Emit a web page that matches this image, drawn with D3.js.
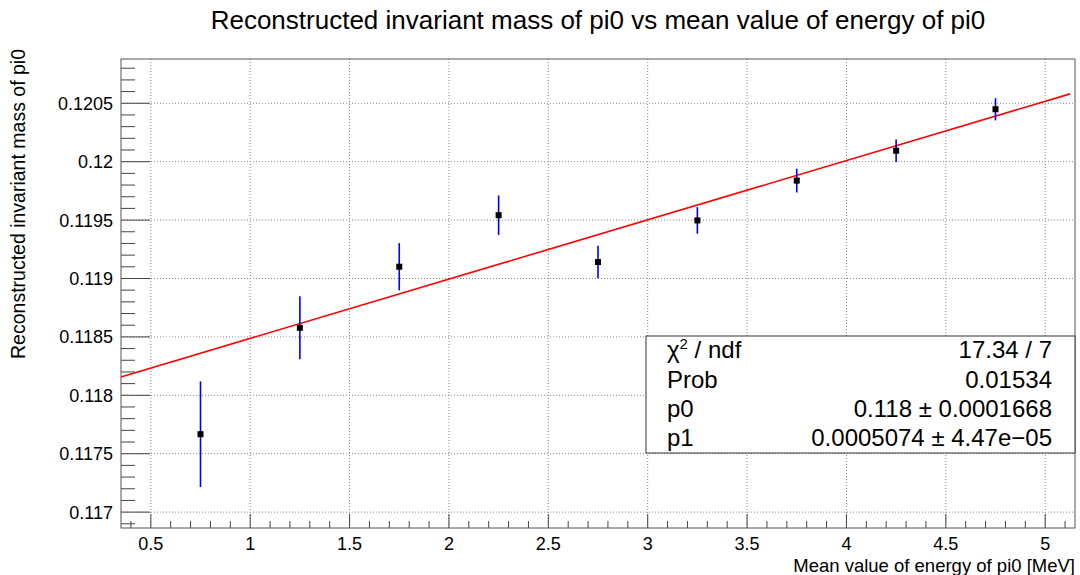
<!DOCTYPE html>
<html><head><meta charset="utf-8">
<script src="https://cdn.jsdelivr.net/npm/d3@7"></script>
<style>body{margin:0;background:#fff}svg{display:block}text{font-family:"Liberation Sans",Arial,sans-serif;fill:#000}</style>
</head><body><svg id="c" width="1080" height="575"></svg>
<script>
const energy = [0.75, 1.25, 1.75, 2.25, 2.75, 3.25, 3.75, 4.25, 4.75];
const mass   = [0.117667, 0.118578, 0.119101, 0.119542, 0.119141, 0.119497, 0.119838, 0.120094, 0.120449];
const massErr= [0.000452, 0.000269, 0.000202, 0.000169, 0.000139, 0.000114, 0.000102, 0.000096, 0.000095];
const fitP0 = 0.11798, fitP1 = 0.0005074;
const xTicks = [0.5, 1, 1.5, 2, 2.5, 3, 3.5, 4, 4.5, 5];
const yTicks = [0.117, 0.1175, 0.118, 0.1185, 0.119, 0.1195, 0.12, 0.1205];
const statsLabels = ["χ2 / ndf", "Prob", "p0", "p1"];
const statsValues = ["17.34 / 7", "0.01534", "0.118 ± 0.0001668", "0.0005074 ± 4.47e−05"];
const title = "Reconstructed invariant mass of pi0 vs mean value of energy of pi0";
const xTitle = "Mean value of energy of pi0 [MeV]";
const yTitle = "Reconstructed invariant mass of pi0";

const L=121, R=1075, T=59, B=528;
const svg = d3.select("#c");
const x = d3.scaleLinear().domain([0.35, 5.15]).range([L, R]);
const y = d3.scaleLinear().domain([0.116864, 0.120879]).range([B, T]);

// grid
const g = svg.append("g");
g.selectAll(".gx").data(xTicks).join("line")
  .attr("x1", d=>x(d)).attr("x2", d=>x(d)).attr("y1", T).attr("y2", B)
  .attr("stroke", "#888").attr("stroke-dasharray", "1,2").attr("stroke-width", 1);
g.selectAll(".gy").data(yTicks).join("line")
  .attr("x1", L).attr("x2", R).attr("y1", d=>y(d)).attr("y2", d=>y(d))
  .attr("stroke", "#888").attr("stroke-dasharray", "1,2").attr("stroke-width", 1);

// ticks
const xMinor = d3.range(4, 52).map(i=>i/10).filter(v=>v>=0.35&&v<=5.15);
const yMinor = d3.range(1169, 1209).map(i=>i/10000).filter(v=>v>=0.116864&&v<=0.120879);
svg.append("g").selectAll("line").data(xMinor).join("line")
  .attr("x1", d=>x(d)).attr("x2", d=>x(d)).attr("y1", B)
  .attr("y2", d=>B-(Math.abs(d*2-Math.round(d*2))<1e-6?14:7))
  .attr("stroke", "#444");
svg.append("g").selectAll("line").data(yMinor).join("line")
  .attr("y1", d=>y(d)).attr("y2", d=>y(d)).attr("x1", L)
  .attr("x2", d=>L+(Math.abs(d*2000-Math.round(d*2000))<1e-6?29:14))
  .attr("stroke", "#444");

// tick labels
svg.append("g").selectAll("text").data(xTicks).join("text")
  .attr("x", d=>x(d)).attr("y", 550).attr("text-anchor", "middle")
  .style("font-size", "18px").text(d=>d3.format("")(d));
svg.append("g").selectAll("text").data(yTicks).join("text")
  .attr("x", 113).attr("y", d=>y(d)+6.5).attr("text-anchor", "end")
  .style("font-size", "18px").text(d=>d3.format("")(d));

// frame
svg.append("rect").attr("x", L).attr("y", T).attr("width", R-L).attr("height", B-T)
  .attr("fill", "none").attr("stroke", "#555").attr("stroke-width", 1);

// fit line
svg.append("line").attr("x1", x(0.35)).attr("x2", x(5.125))
  .attr("y1", y(fitP0+fitP1*0.35)).attr("y2", y(fitP0+fitP1*5.125))
  .attr("stroke", "#ff0000").attr("stroke-width", 1.6);

// error bars
const pts = energy.map((e,i)=>({e, m:mass[i], s:massErr[i]}));
svg.append("g").selectAll("line").data(pts).join("line")
  .attr("x1", d=>x(d.e)).attr("x2", d=>x(d.e))
  .attr("y1", d=>y(d.m+d.s)).attr("y2", d=>y(d.m-d.s))
  .attr("stroke", "#0000ff").attr("stroke-width", 1.6);
svg.append("g").selectAll("rect").data(pts).join("rect")
  .attr("x", d=>x(d.e)-3).attr("y", d=>y(d.m)-3).attr("width", 6).attr("height", 6)
  .attr("fill", "#000");

// stats box
const sb = {x0:646, y0:336, x1:1075, y1:453};
svg.append("rect").attr("x", sb.x0).attr("y", sb.y0).attr("width", sb.x1-sb.x0).attr("height", sb.y1-sb.y0)
  .attr("fill", "#fff").attr("stroke", "#333").attr("stroke-width", 1);
const rowY = [358, 388, 417, 446];
statsLabels.forEach((lab,i)=>{
  const t = svg.append("text").attr("x", 667).attr("y", rowY[i]).style("font-size", "24px");
  if(i===0){ t.append("tspan").text("χ"); t.append("tspan").attr("dy",-9).style("font-size","15px").text("2"); t.append("tspan").attr("dy",9).text(" / ndf"); }
  else t.text(lab);
  svg.append("text").attr("x", 1052).attr("y", rowY[i]).attr("text-anchor","end").style("font-size","24px").text(statsValues[i]);
});

// titles
svg.append("text").attr("x", 598).attr("y", 29).attr("text-anchor","middle").style("font-size","26px").text(title);
svg.append("text").attr("x", 1075).attr("y", 572).attr("text-anchor","end").style("font-size","18.5px").text(xTitle);
svg.append("text").attr("transform","translate(25,49) rotate(-90)").attr("text-anchor","end").style("font-size","19.5px").text(yTitle);
</script></body></html>
